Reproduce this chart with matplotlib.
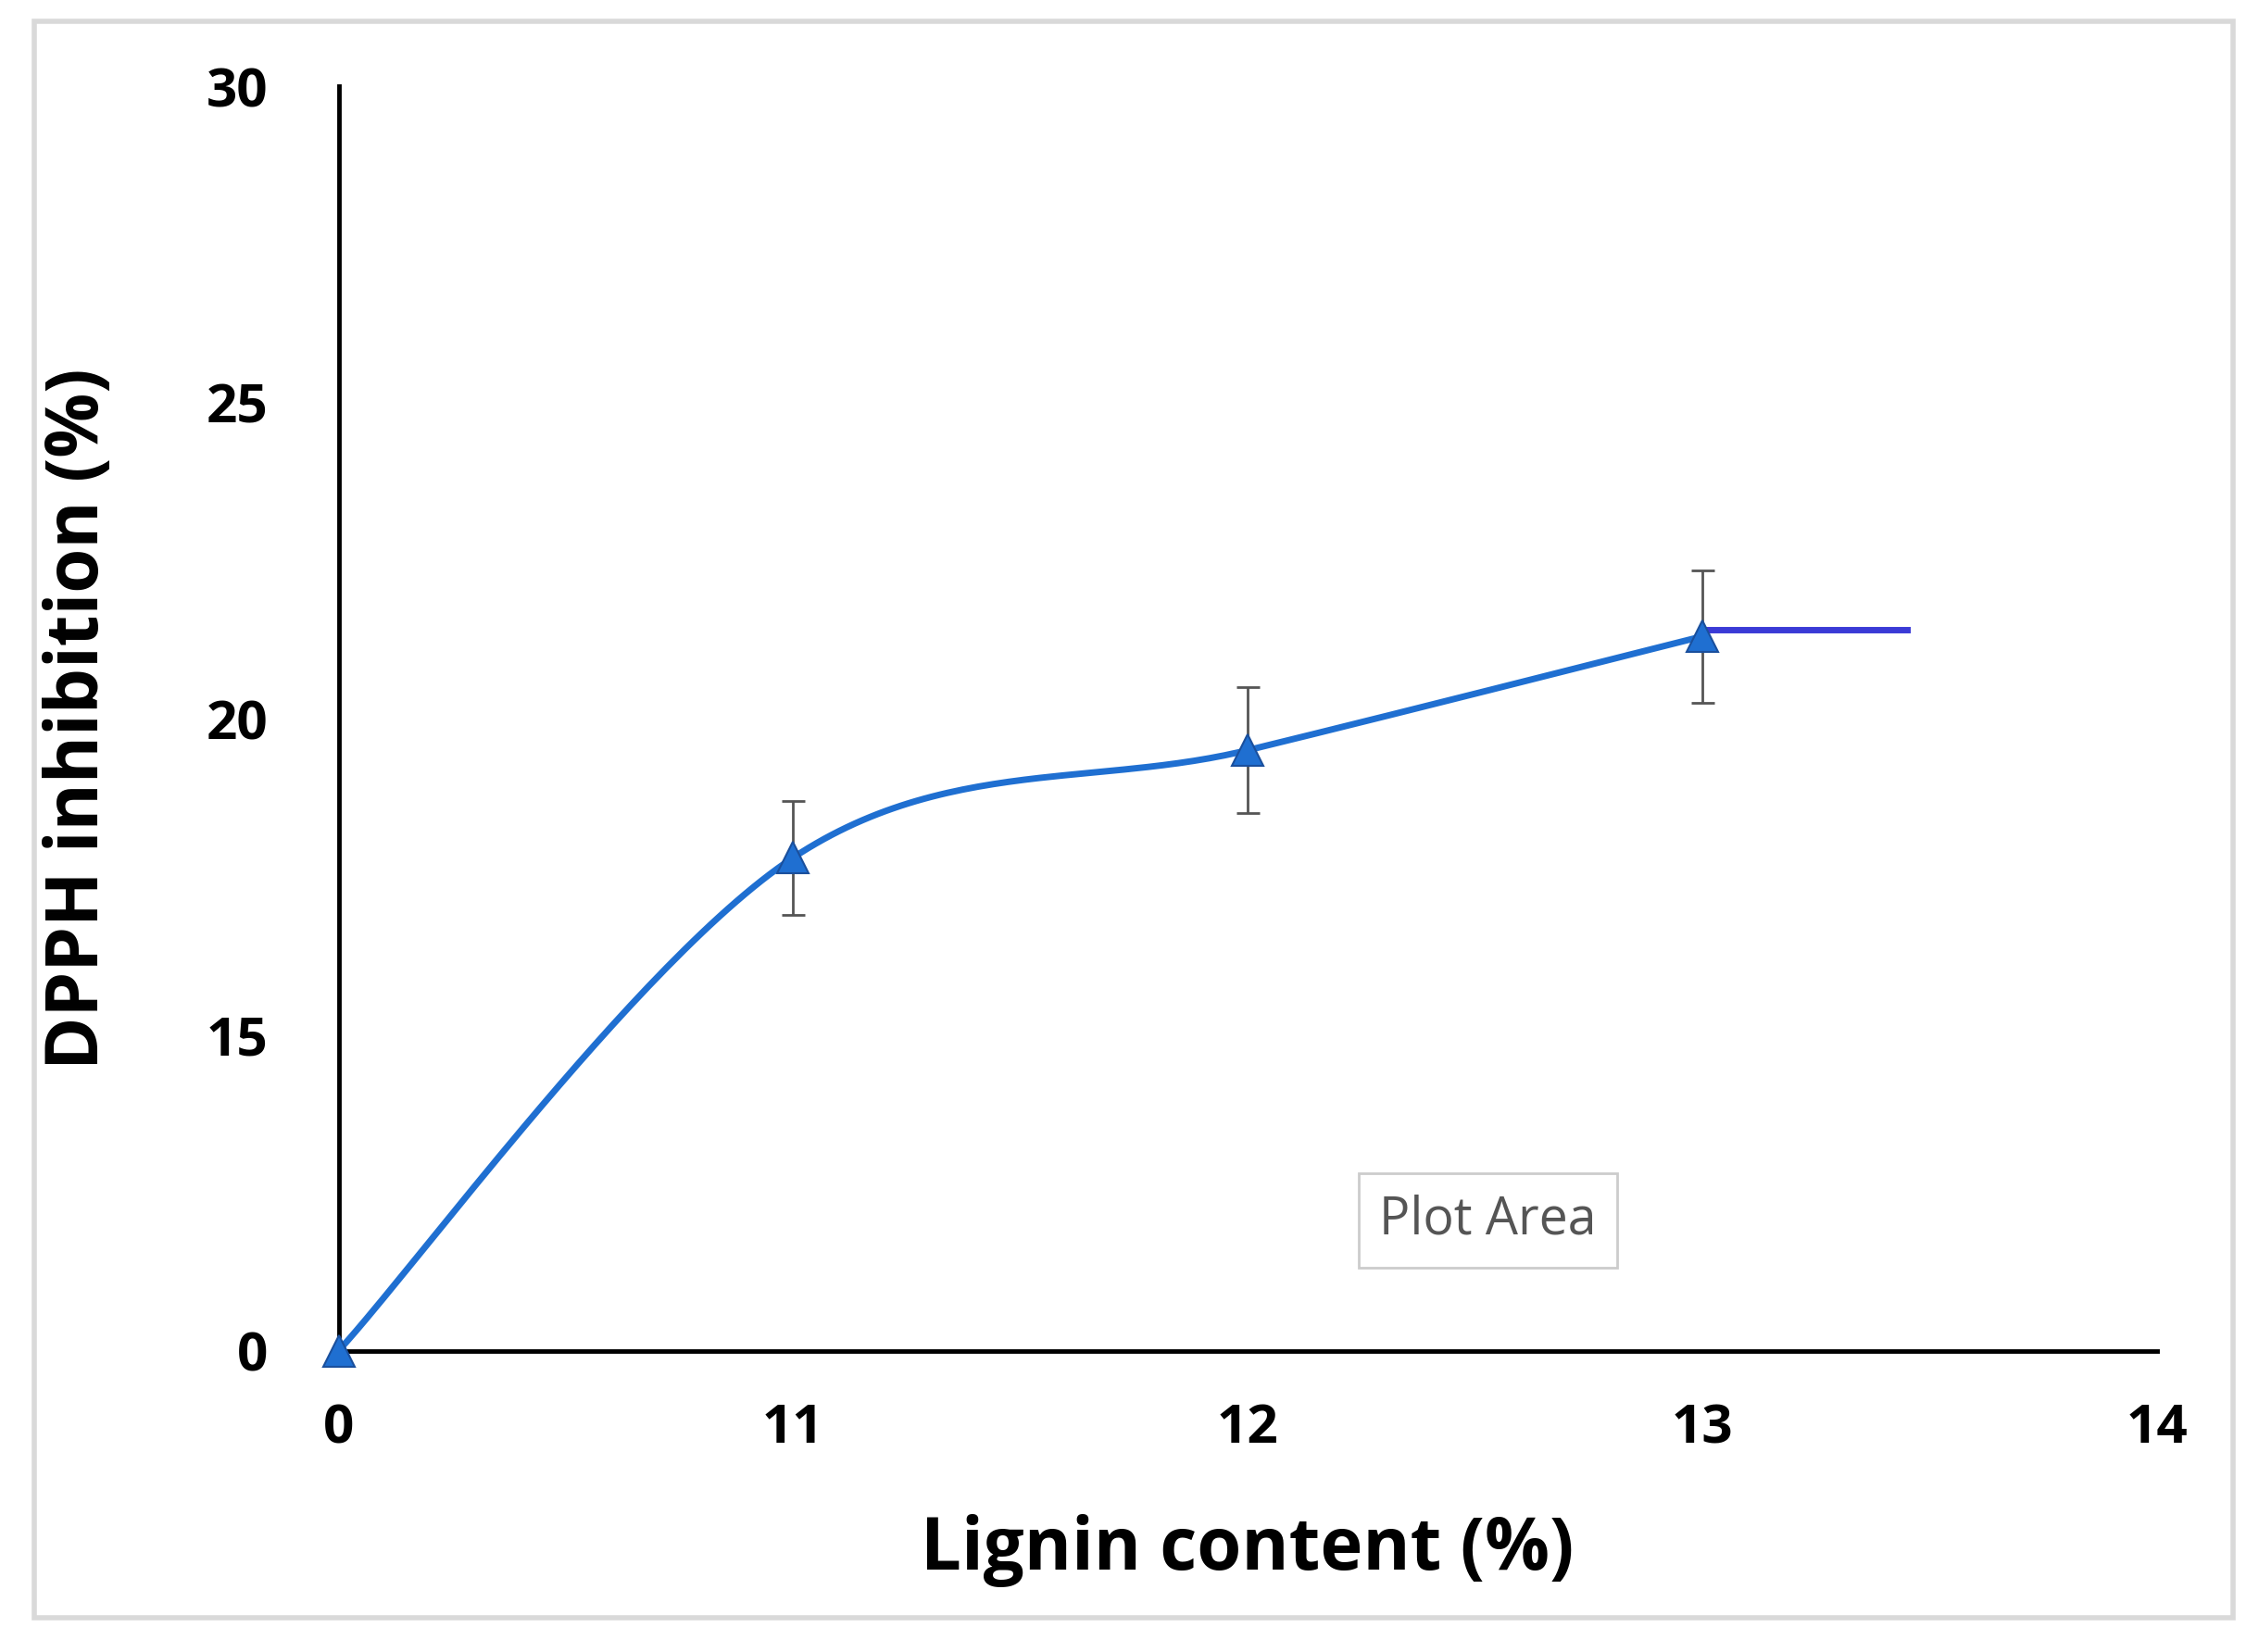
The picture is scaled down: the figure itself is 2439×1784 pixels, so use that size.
import numpy as np
import matplotlib
matplotlib.use("Agg")
import matplotlib.pyplot as plt
from matplotlib.patches import Rectangle

x_labels = ["0", "11", "12", "13", "14"]
x_pos = [0, 1, 2, 3]
y_vals = [10.0, 17.8, 19.5, 21.3]
y_err = [0.0, 0.9, 1.0, 1.05]
tail_x = [3, 3.45]
tail_y = [21.4, 21.4]
y_ticks = [10, 15, 20, 25, 30]
y_ticklabels = ["0", "15", "20", "25", "30"]

plt.rcParams['font.family'] = ['Open Sans', 'DejaVu Sans']
fig = plt.figure(figsize=(24.39, 17.84), dpi=100)
fig.patches.append(Rectangle((24/1568, 1-1122/1146), (1550-24)/1568, (1122-15)/1146,
                             transform=fig.transFigure, fill=False, ec="#d9d9d9", lw=4))
ax = fig.add_axes([235/1568, 1-937/1146, (1497-235)/1568, (937-60)/1146])

def catmull(xs, ys, n=60):
    px = [xs[0]] + list(xs) + [xs[-1]]
    py = [ys[0]] + list(ys) + [ys[-1]]
    ox, oy = [], []
    for i in range(1, len(px) - 2):
        t = np.linspace(0, 1, n)
        for arr, out in ((px, ox), (py, oy)):
            p0, p1, p2, p3 = arr[i-1], arr[i], arr[i+1], arr[i+2]
            out.extend(0.5*((2*p1) + (-p0+p2)*t + (2*p0-5*p1+4*p2-p3)*t**2 + (-p0+3*p1-3*p2+p3)*t**3))
    return ox, oy

cx, cy = catmull(x_pos, y_vals)
ax.plot(cx, cy, color="#1f6fd1", lw=5, zorder=2)
ax.plot(tail_x, tail_y, color="#3a3ad6", lw=5, zorder=2)
ax.errorbar(x_pos[1:], y_vals[1:], yerr=y_err[1:], fmt="none", ecolor="#555555",
            elinewidth=2, capsize=9, capthick=2, zorder=3)
ax.plot(x_pos, y_vals, ls="none", marker="^", ms=24, color="#1f6fd1",
        mec="#1a4f9c", mew=1.5, zorder=4, clip_on=False)

ax.set_xlim(0, 4)
ax.set_ylim(10, 30)
ax.set_xticks(range(5))
ax.set_xticklabels(x_labels)
ax.set_yticks(y_ticks)
ax.set_yticklabels(y_ticklabels)
for s in ["top", "right"]:
    ax.spines[s].set_visible(False)
for s in ["left", "bottom"]:
    ax.spines[s].set_linewidth(3.5)
ax.tick_params(length=0, labelsize=42, pad=40)
ax.tick_params(axis="y", pad=55)
for lab in ax.get_xticklabels() + ax.get_yticklabels():
    lab.set_fontweight("bold")
ax.set_xlabel("Lignin content (%)", fontsize=56, fontweight="bold", labelpad=45)
ax.set_ylabel("DPPH inhibition (%)", fontsize=56, fontweight="bold", labelpad=70)
ax.text(2.29, 11.85, "Plot Area", fontsize=40, color="#555555",
        bbox=dict(boxstyle="square,pad=0.4", fc="white", ec="#cccccc", lw=2))
fig.savefig("out.png", dpi=100)
